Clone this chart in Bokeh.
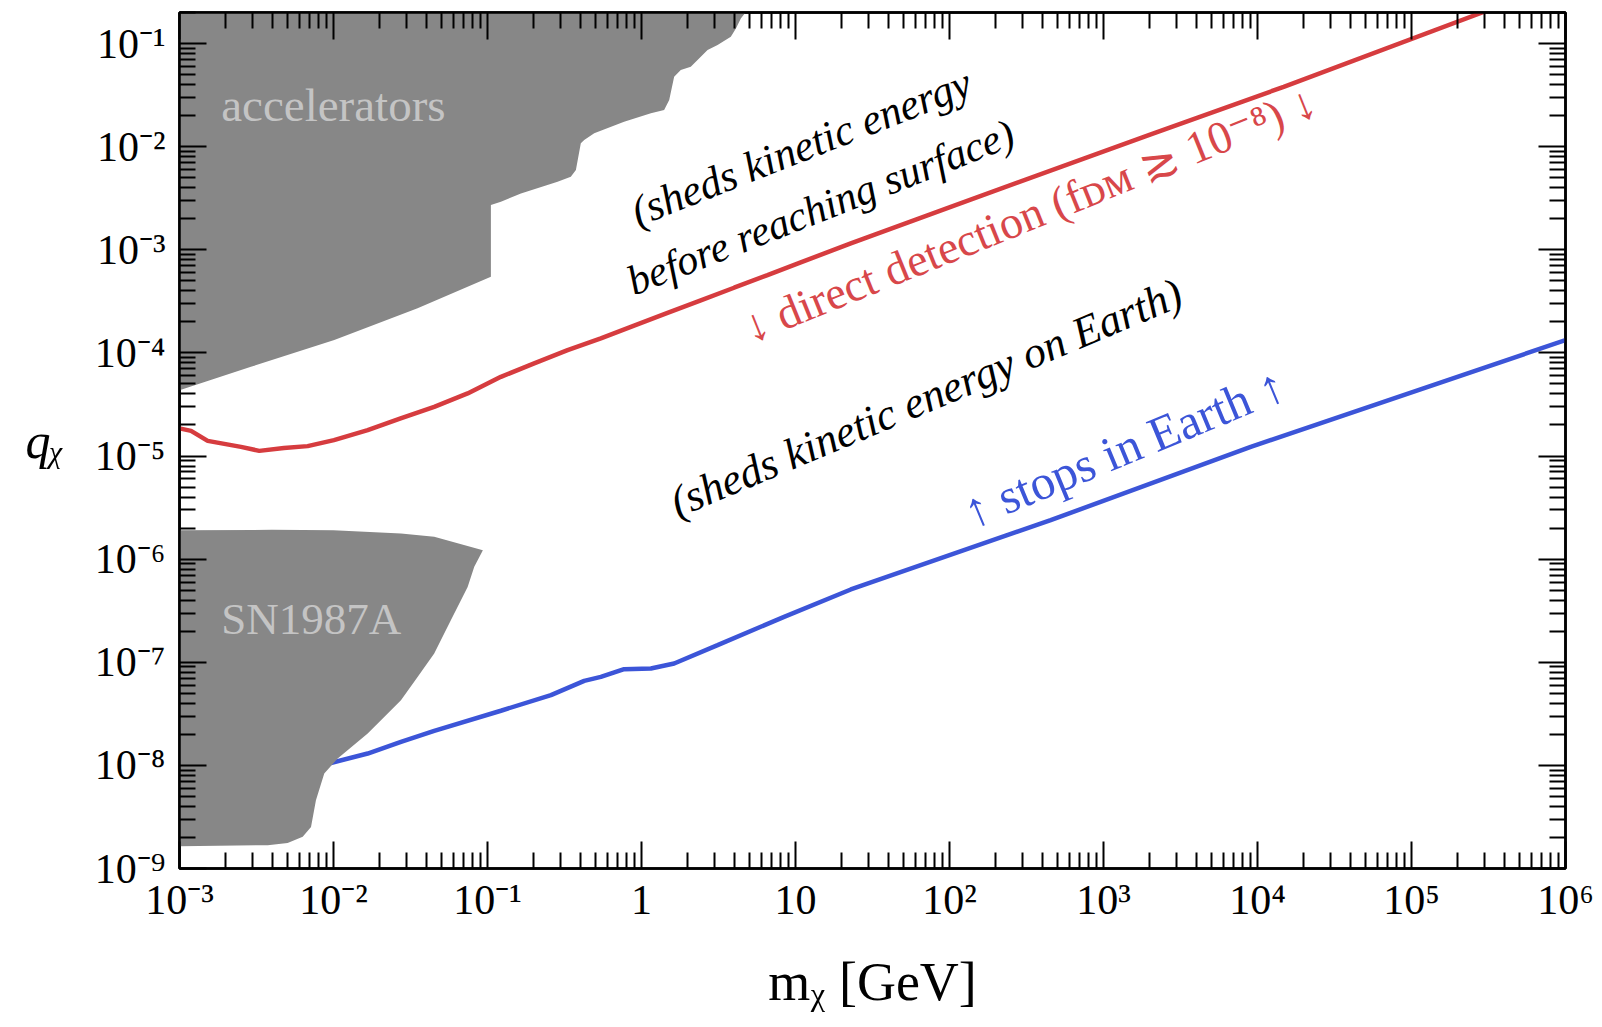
import numpy as np
from bokeh.plotting import figure
from bokeh.models import FixedTicker, LogAxis, CustomJSTickFormatter, Label, ColumnDataSource
from bokeh.embed import file_html
from bokeh.resources import INLINE

# ---- data (log10 values) ----
red_log_m = [-3.0, -2.925, -2.817, -2.601, -2.482, -2.322, -2.168, -1.997, -1.778, -1.564,
             -1.346, -1.129, -0.913, -0.697, -0.480, -0.264, -0.048, 0.169, 0.385, 0.601,
             0.818, 1.034, 1.359, 2.008, 3.307, 4.170, 5.468, 5.8]
red_log_q = [-4.732, -4.756, -4.853, -4.911, -4.950, -4.923, -4.904, -4.846, -4.749, -4.635,
             -4.523, -4.393, -4.232, -4.102, -3.973, -3.859, -3.735, -3.612, -3.490, -3.368,
             -3.246, -3.122, -2.938, -2.583, -1.880, -1.420, -0.694, -0.51]

blue_log_m = [-2.03, -1.778, -1.562, -1.346, -0.913, -0.588, -0.372, -0.264, -0.113, 0.061,
              0.212, 0.494, 0.926, 1.359, 2.657, 3.956, 6.0]
blue_log_q = [-7.982, -7.885, -7.772, -7.665, -7.470, -7.319, -7.180, -7.142, -7.067, -7.060,
              -7.012, -6.834, -6.560, -6.294, -5.622, -4.911, -3.876]

acc_log_m = [-3.0, -3.0, -2.536, -1.995, -1.454, -0.978, -0.978, -0.913, -0.783, -0.545,
             -0.459, -0.426, -0.394, -0.372, -0.307, -0.113, 0.061, 0.147, 0.180, 0.212,
             0.255, 0.320, 0.429, 0.494, 0.580, 0.613, 0.645, 0.678, 0.72, 0.72]
acc_log_q = [0.0, -4.361, -4.135, -3.876, -3.568, -3.262, -2.566, -2.534, -2.453, -2.340,
             -2.292, -2.227, -1.968, -1.936, -1.871, -1.759, -1.677, -1.645, -1.548, -1.322,
             -1.257, -1.225, -1.063, -1.015, -0.934, -0.853, -0.756, -0.694, -0.5, 0.0]

sn_log_m = [-3.0, -2.4, -2.0, -1.562, -1.346, -1.030, -1.086, -1.129, -1.238, -1.346,
            -1.454, -1.562, -1.778, -1.973, -2.060, -2.114, -2.146, -2.200, -2.298, -2.427, -3.0]
sn_log_q = [-5.719, -5.716, -5.720, -5.751, -5.784, -5.913, -6.075, -6.269, -6.592, -6.915,
            -7.142, -7.368, -7.691, -7.933, -8.079, -8.338, -8.597, -8.693, -8.752, -8.774, -8.784]

x_tick_labels = ["10⁻³", "10⁻²", "10⁻¹", "1", "10", "10²", "10³", "10⁴", "10⁵", "10⁶"]
y_tick_labels = ["10⁻⁹", "10⁻⁸", "10⁻⁷", "10⁻⁶", "10⁻⁵", "10⁻⁴", "10⁻³", "10⁻²", "10⁻¹"]
x_decades = list(range(-3, 7))
y_decades = list(range(-9, 0))
x_title = "mᵪ [GeV]"
y_title = "qᵪ"

RED = "#d63c3f"
RED_TXT = "#d8474a"
BLUE = "#3c55d8"
GRAY = "#878787"
LIGHT = "#c4c4c4"
SERIF = "Liberation Serif"

p = figure(width=1602, height=1027, x_axis_type="log", y_axis_type="log",
           x_range=(1e-3, 1e6), y_range=(1e-9, 0.2),
           output_backend="svg", toolbar_location=None,
           min_border_left=179, min_border_right=37, min_border_top=12, min_border_bottom=159)
p.xgrid.visible = False
p.ygrid.visible = False
p.outline_line_color = "black"
p.outline_line_width = 2.5
p.background_fill_color = "white"
p.border_fill_color = "white"

red_src = ColumnDataSource(dict(m=np.power(10.0, red_log_m), q=np.power(10.0, red_log_q)))
blue_src = ColumnDataSource(dict(m=np.power(10.0, blue_log_m), q=np.power(10.0, blue_log_q)))
p.line("m", "q", source=red_src, line_color=RED, line_width=4.5)
p.line("m", "q", source=blue_src, line_color=BLUE, line_width=4.5)
p.patch(np.power(10.0, acc_log_m), np.power(10.0, acc_log_q), fill_color=GRAY, line_color=None)
p.patch(np.power(10.0, sn_log_m), np.power(10.0, sn_log_q), fill_color=GRAY, line_color=None)

x_major = [10.0 ** k for k in x_decades]
x_minor = [j * 10.0 ** k for k in x_decades[:-1] for j in range(2, 10)]
y_major = [10.0 ** k for k in y_decades]
y_minor = [j * 10.0 ** k for k in y_decades for j in range(2, 10)]

def style_axis(ax, major, minor, labels=None, lo=0):
    ax.ticker = FixedTicker(ticks=major, minor_ticks=minor)
    ax.major_tick_in = 27
    ax.major_tick_out = 0
    ax.minor_tick_in = 16
    ax.minor_tick_out = 0
    ax.major_tick_line_width = 2
    ax.minor_tick_line_width = 2
    ax.major_tick_line_color = "black"
    ax.minor_tick_line_color = "black"
    ax.axis_line_width = 2.5
    ax.axis_line_color = "black"
    ax.major_label_text_font = SERIF
    ax.major_label_text_font_size = "42px"
    ax.major_label_text_color = "black"
    ax.axis_label_text_font = SERIF
    ax.axis_label_text_color = "black"
    if labels is None:
        ax.formatter = CustomJSTickFormatter(code="return '';")
    else:
        ax.formatter = CustomJSTickFormatter(
            args=dict(labels=labels, lo=lo),
            code="return labels[Math.round(Math.log10(tick)) - lo];")

xa = p.xaxis[0]
ya = p.yaxis[0]
style_axis(xa, x_major, x_minor, x_tick_labels, -3)
style_axis(ya, y_major, y_minor, y_tick_labels, -9)
xa.major_label_standoff = 8
ya.major_label_standoff = 14

xa.axis_label = x_title
xa.axis_label_text_font_size = "54px"
xa.axis_label_text_font_style = "normal"
xa.axis_label_standoff = 26

ya.axis_label = y_title
ya.axis_label_text_font_size = "50px"
ya.axis_label_text_font_style = "italic"
ya.axis_label_standoff = 28
try:
    ya.axis_label_orientation = "horizontal"
except Exception:
    pass

top = LogAxis()
style_axis(top, x_major, x_minor)
p.add_layout(top, "above")
right = LogAxis()
style_axis(right, y_major, y_minor)
p.add_layout(right, "right")

# ---- region and curve annotations ----
def note(lm, lq, text, color, size, angle=0.0, style="normal"):
    p.add_layout(Label(x=10.0 ** lm, y=10.0 ** lq, text=text, text_color=color,
                       text_font=SERIF, text_font_style=style, text_font_size=size,
                       angle=angle, angle_units="deg",
                       text_align="left", text_baseline="alphabetic"))

note(-2.729, -1.60, "accelerators", LIGHT, "47px")
note(-2.729, -6.58, "SN1987A", LIGHT, "45px")
note(-0.055, -2.645, "(sheds kinetic energy", "black", "43px", 21.5, "italic")
note(-0.082, -3.32, "before reaching surface)", "black", "42px", 21.5, "italic")
note(0.677, -3.77, "↓ direct detection (fᴅᴍ ≳ 10⁻⁸) ↓", RED_TXT, "46px", 22.0)
note(0.200, -5.47, "(sheds kinetic energy on Earth)", "black", "44px", 22.8, "italic")
note(2.105, -5.56, "↑ stops in Earth ↑", BLUE, "49px", 22.5)

open("out.html", "w").write(file_html(p, INLINE))
